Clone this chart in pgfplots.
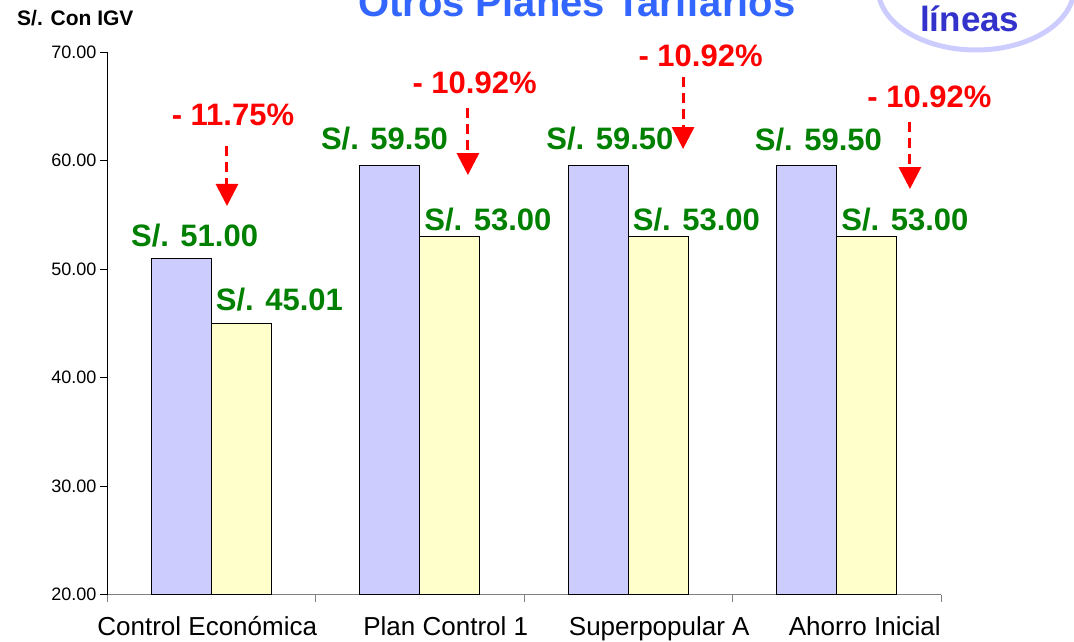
\documentclass[border=0pt]{standalone}
\usepackage{pgfplots}
\pgfplotsset{compat=1.18}
\usepackage{fontspec}
\setmainfont{Liberation Sans}
\usetikzlibrary{arrows.meta}
\definecolor{barblue}{HTML}{CCCCFF}
\definecolor{baryellow}{HTML}{FFFFCC}
\definecolor{labgreen}{HTML}{008000}
\definecolor{titleblue}{HTML}{3366FF}
\definecolor{ovalblue}{HTML}{CCCCFF}
\definecolor{darkblue}{HTML}{3333CC}
\tikzset{
  lab/.style={anchor=base, inner sep=0pt, font=\fontsize{31}{31}\selectfont\bfseries, text=labgreen},
  pct/.style={anchor=base, inner sep=0pt, font=\fontsize{31}{31}\selectfont\bfseries, text=red},
  arr/.style={red, line width=3pt, dash pattern=on 10pt off 6pt, -{Triangle[length=22pt,width=22pt]}},
}
\begin{document}
\begin{tikzpicture}
\path[use as bounding box] (0,0) rectangle (1074pt,641pt);
\node[anchor=base west, inner sep=0pt, font=\fontsize{40}{40}\selectfont\bfseries, text=titleblue] at (358pt,624pt) {Otros Planes Tarifarios};
\draw[ovalblue, line width=5pt] (976pt,653pt) ellipse [x radius=98pt, y radius=62pt];
\node[anchor=base west, inner sep=0pt, font=\fontsize{35}{36}\selectfont\bfseries, text=darkblue] at (920pt,609pt) {líneas};
\node[anchor=base west, inner sep=0pt, font=\fontsize{21}{21}\selectfont\bfseries] at (17pt,615pt) {S/. Con IGV};
\begin{axis}[
  at={(107pt,46.5pt)}, anchor=south west,
  scale only axis, width=834pt, height=542.5pt,
  xmin=-0.5, xmax=3.5, ymin=20, ymax=70,
  axis x line=bottom, axis y line=left,
  x axis line style={-, draw=gray, line width=1.2pt},
  y axis line style={-, draw=black, line width=1pt},
  tick align=outside, major tick length=7pt,
  ytick={20,30,40,50,60,70},
  ytick style={draw=black, line width=1pt},
  yticklabel style={font=\fontsize{18}{18}\selectfont},
  /pgf/number format/.cd, fixed, fixed zerofill, precision=2, assume math mode=true, /pgfplots/.cd,
  xtick={0,1,2,3},
  xticklabels={{Control Económica\hspace*{8pt}}, {\hspace*{52pt}Plan Control 1}, {\hspace*{62pt}Superpopular A}, {\hspace*{56pt}Ahorro Inicial}},
  xtick style={draw=none},
  xticklabel style={font=\fontsize{26}{26}\selectfont, anchor=base, yshift=-33.5pt},
  extra x ticks={-0.5,0.5,1.5,2.5,3.5},
  extra x tick labels={},
  extra x tick style={xtick style={draw=gray, line width=1pt}},
  ybar=0pt, bar width=60pt,
  clip mode=individual,
]
\addplot[fill=barblue, draw=black, line width=1pt] coordinates {(0,51.00) (1,59.50) (2,59.50) (3,59.50)};
\addplot[fill=baryellow, draw=black, line width=1pt] coordinates {(0,45.01) (1,53.00) (2,53.00) (3,53.00)};
\node[lab] at (axis cs:-0.080,52.03) {S/. 51.00};
\node[lab] at (axis cs:0.327,46.13) {S/. 45.01};
\node[lab] at (axis cs:0.831,60.97) {S/. 59.50};
\node[lab] at (axis cs:1.327,53.59) {S/. 53.00};
\node[lab] at (axis cs:1.912,60.97) {S/. 59.50};
\node[lab] at (axis cs:2.327,53.59) {S/. 53.00};
\node[lab] at (axis cs:2.912,60.88) {S/. 59.50};
\node[lab] at (axis cs:3.327,53.59) {S/. 53.00};
\node[pct] at (axis cs:0.104,63.18) {- 11.75\%};
\node[pct] at (axis cs:1.263,66.22) {- 10.92\%};
\node[pct] at (axis cs:2.347,68.62) {- 10.92\%};
\node[pct] at (axis cs:3.445,64.84) {- 10.92\%};
\draw[arr] (axis cs:0.0755,61.34) -- (axis cs:0.0755,55.81);
\draw[arr] (axis cs:1.231,64.84) -- (axis cs:1.231,58.66);
\draw[arr] (axis cs:2.263,67.70) -- (axis cs:2.263,61.06);
\draw[arr] (axis cs:3.351,63.55) -- (axis cs:3.351,57.37);
\end{axis}
\end{tikzpicture}
\end{document}
